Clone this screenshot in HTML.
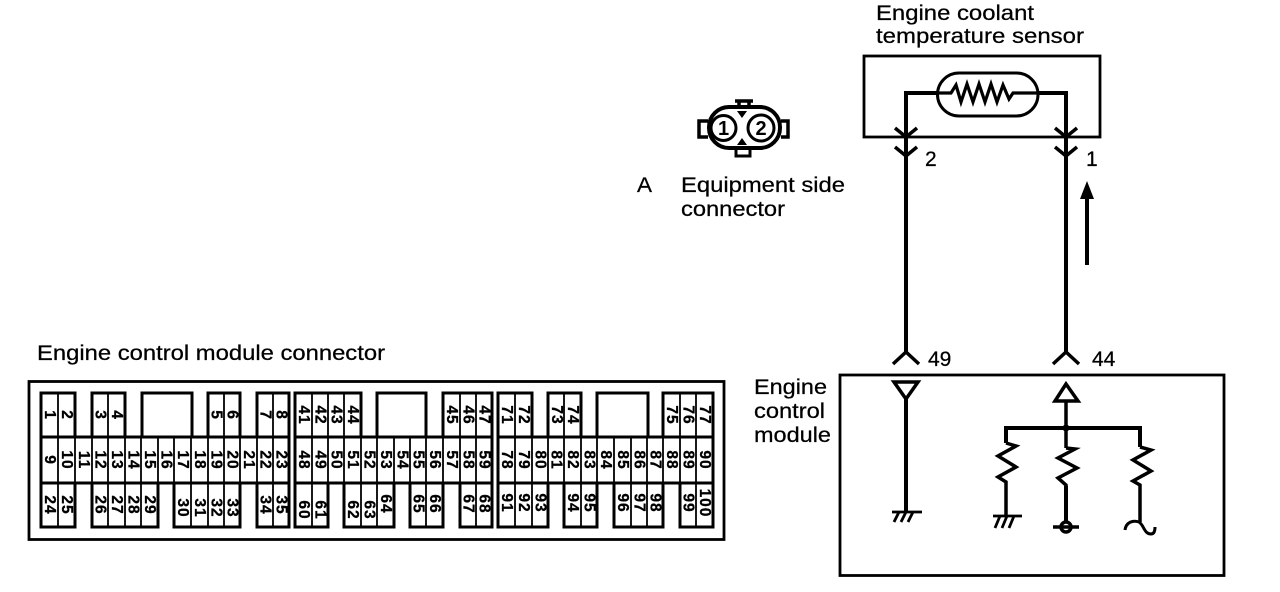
<!DOCTYPE html>
<html><head><meta charset="utf-8"><style>
html,body{margin:0;padding:0;background:#fff}
svg{display:block}
.l{font:21px "Liberation Sans",sans-serif;fill:#000;stroke:#000;stroke-width:.25px}
.n text{font:bold 15.5px "Liberation Sans",sans-serif;fill:#000;stroke:#000;stroke-width:.3px;text-anchor:middle;dominant-baseline:central;letter-spacing:1px}
</style></head><body>
<svg width="1280" height="592" viewBox="0 0 1280 592" xmlns="http://www.w3.org/2000/svg">
<rect width="1280" height="592" fill="#fff"/>
<g fill="none" stroke="#000" stroke-linejoin="miter">
<rect x="29" y="381.500" width="695" height="158" stroke-width="2.800"/>
<g stroke-width="3">
<path d="M41 437V393H75V437M92 437V393H125V437M142 437V393H192V437M208 437V393H240V437M257 437V393H289V437M295 437V393H361V437M377 437V393H426V437M443 437V393H492V437M498 437V393H532V437M548 437V393H581V437M597 437V393H648V437M663 437V393H713V437"/>
<path d="M41 437H289M295 437H492M498 437H713M41 483H289M295 483H492M498 483H713M41 437V483M289 437V483M295 437V483M492 437V483M498 437V483M713 437V483"/>
<path d="M41 483V527H75V483M92 483V527H158V483M174 483V527H240V483M257 483V527H289V483M295 483V527H328V483M344 483V527H394V483M410 483V527H443V483M460 483V527H492V483M498 483V527H548V483M564 483V527H597V483M614 483V527H663V483M680 483V527H713V483"/>
</g>
<path stroke-width="1.800" d="M58 393V437M108 393V437M224 393V437M273 393V437M312 393V437M328 393V437M344 393V437M460 393V437M476 393V437M515 393V437M564 393V437M680 393V437M696 393V437
M58 437V483M75 437V483M92 437V483M108 437V483M125 437V483M141 437V483M158 437V483M174 437V483M191 437V483M208 437V483M224 437V483M240 437V483M257 437V483M273 437V483M312 437V483M328 437V483M344 437V483M361 437V483M377 437V483M394 437V483M410 437V483M426 437V483M443 437V483M460 437V483M476 437V483M515 437V483M532 437V483M548 437V483M564 437V483M581 437V483M597 437V483M614 437V483M631 437V483M647 437V483M663 437V483M680 437V483M696 437V483
M58 483V527M108 483V527M125 483V527M141 483V527M191 483V527M208 483V527M224 483V527M273 483V527M312 483V527M361 483V527M377 483V527M426 483V527M476 483V527M515 483V527M532 483V527M581 483V527M631 483V527M647 483V527M696 483V527"/>
</g>
<g class="n">
<text transform="translate(49.500,415) rotate(90)">1</text>
<text transform="translate(66.500,415) rotate(90)">2</text>
<text transform="translate(100,415) rotate(90)">3</text>
<text transform="translate(116.500,415) rotate(90)">4</text>
<text transform="translate(216,415) rotate(90)">5</text>
<text transform="translate(232,415) rotate(90)">6</text>
<text transform="translate(265,415) rotate(90)">7</text>
<text transform="translate(281,415) rotate(90)">8</text>
<text transform="translate(303.500,415) rotate(90)">41</text>
<text transform="translate(320,415) rotate(90)">42</text>
<text transform="translate(336,415) rotate(90)">43</text>
<text transform="translate(352.500,415) rotate(90)">44</text>
<text transform="translate(451.500,415) rotate(90)">45</text>
<text transform="translate(468,415) rotate(90)">46</text>
<text transform="translate(484,415) rotate(90)">47</text>
<text transform="translate(506.500,415) rotate(90)">71</text>
<text transform="translate(523.500,415) rotate(90)">72</text>
<text transform="translate(556.500,415) rotate(90)">73</text>
<text transform="translate(572.500,415) rotate(90)">74</text>
<text transform="translate(671.500,415) rotate(90)">75</text>
<text transform="translate(688,415) rotate(90)">76</text>
<text transform="translate(704.500,415) rotate(90)">77</text>
<text transform="translate(49.500,460) rotate(90)">9</text>
<text transform="translate(66.500,460) rotate(90)">10</text>
<text transform="translate(83.500,460) rotate(90)">11</text>
<text transform="translate(100,460) rotate(90)">12</text>
<text transform="translate(116.500,460) rotate(90)">13</text>
<text transform="translate(133,460) rotate(90)">14</text>
<text transform="translate(149.500,460) rotate(90)">15</text>
<text transform="translate(166,460) rotate(90)">16</text>
<text transform="translate(182.500,460) rotate(90)">17</text>
<text transform="translate(199.500,460) rotate(90)">18</text>
<text transform="translate(216,460) rotate(90)">19</text>
<text transform="translate(232,460) rotate(90)">20</text>
<text transform="translate(248.500,460) rotate(90)">21</text>
<text transform="translate(265,460) rotate(90)">22</text>
<text transform="translate(281,460) rotate(90)">23</text>
<text transform="translate(303.500,460) rotate(90)">48</text>
<text transform="translate(320,460) rotate(90)">49</text>
<text transform="translate(336,460) rotate(90)">50</text>
<text transform="translate(352.500,460) rotate(90)">51</text>
<text transform="translate(369,460) rotate(90)">52</text>
<text transform="translate(385.500,460) rotate(90)">53</text>
<text transform="translate(402,460) rotate(90)">54</text>
<text transform="translate(418,460) rotate(90)">55</text>
<text transform="translate(434.500,460) rotate(90)">56</text>
<text transform="translate(451.500,460) rotate(90)">57</text>
<text transform="translate(468,460) rotate(90)">58</text>
<text transform="translate(484,460) rotate(90)">59</text>
<text transform="translate(506.500,460) rotate(90)">78</text>
<text transform="translate(523.500,460) rotate(90)">79</text>
<text transform="translate(540,460) rotate(90)">80</text>
<text transform="translate(556,460) rotate(90)">81</text>
<text transform="translate(572.500,460) rotate(90)">82</text>
<text transform="translate(589,460) rotate(90)">83</text>
<text transform="translate(605.500,460) rotate(90)">84</text>
<text transform="translate(622.500,460) rotate(90)">85</text>
<text transform="translate(639,460) rotate(90)">86</text>
<text transform="translate(655,460) rotate(90)">87</text>
<text transform="translate(671.500,460) rotate(90)">88</text>
<text transform="translate(688,460) rotate(90)">89</text>
<text transform="translate(704.500,460) rotate(90)">90</text>
<text transform="translate(49.500,505) rotate(90)">24</text>
<text transform="translate(66.500,505) rotate(90)">25</text>
<text transform="translate(100,505) rotate(90)">26</text>
<text transform="translate(116.500,505) rotate(90)">27</text>
<text transform="translate(133,505) rotate(90)">28</text>
<text transform="translate(149.500,505) rotate(90)">29</text>
<text transform="translate(182.500,508) rotate(90)">30</text>
<text transform="translate(199.500,508) rotate(90)">31</text>
<text transform="translate(216,508) rotate(90)">32</text>
<text transform="translate(232,508) rotate(90)">33</text>
<text transform="translate(265,505) rotate(90)">34</text>
<text transform="translate(281,505) rotate(90)">35</text>
<text transform="translate(303.500,510) rotate(90)">60</text>
<text transform="translate(320,510) rotate(90)">61</text>
<text transform="translate(352.500,510) rotate(90)">62</text>
<text transform="translate(369,510) rotate(90)">63</text>
<text transform="translate(385.500,504) rotate(90)">64</text>
<text transform="translate(418,504) rotate(90)">65</text>
<text transform="translate(434.500,504) rotate(90)">66</text>
<text transform="translate(468,504) rotate(90)">67</text>
<text transform="translate(484,504) rotate(90)">68</text>
<text transform="translate(506.500,503) rotate(90)">91</text>
<text transform="translate(523.500,503) rotate(90)">92</text>
<text transform="translate(540,503) rotate(90)">93</text>
<text transform="translate(572.500,503) rotate(90)">94</text>
<text transform="translate(589,503) rotate(90)">95</text>
<text transform="translate(622.500,503) rotate(90)">96</text>
<text transform="translate(639,503) rotate(90)">97</text>
<text transform="translate(655,503) rotate(90)">98</text>
<text transform="translate(688,503) rotate(90)">99</text>
<text transform="translate(704.500,503) rotate(90)">100</text>
</g>
<text class="l" x="37" y="360" textLength="348" lengthAdjust="spacingAndGlyphs">Engine control module connector</text>
<text class="l" x="876" y="20" textLength="158" lengthAdjust="spacingAndGlyphs">Engine coolant</text>
<text class="l" x="876" y="43" textLength="208" lengthAdjust="spacingAndGlyphs">temperature sensor</text>
<text class="l" x="637" y="192" textLength="15" lengthAdjust="spacingAndGlyphs">A</text>
<text class="l" x="681" y="192" textLength="164" lengthAdjust="spacingAndGlyphs">Equipment side</text>
<text class="l" x="681" y="216" textLength="104" lengthAdjust="spacingAndGlyphs">connector</text>
<text class="l" x="754" y="394" textLength="73" lengthAdjust="spacingAndGlyphs">Engine</text>
<text class="l" x="754" y="418" textLength="71" lengthAdjust="spacingAndGlyphs">control</text>
<text class="l" x="754" y="442" textLength="77" lengthAdjust="spacingAndGlyphs">module</text>
<text class="l" x="925" y="166">2</text>
<text class="l" x="1086" y="166">1</text>
<text class="l" x="928" y="366">49</text>
<text class="l" x="1092" y="366">44</text>
<g fill="none" stroke="#000" stroke-width="3.500">
<rect x="864" y="56" width="236" height="81" stroke-width="2.800"/>
<path d="M906 352V93H937M1038 93H1066V352" stroke-width="4"/>
<rect x="937.500" y="73" width="100.500" height="43" rx="21.500" stroke-width="3"/>
<path d="M937 93H951L956 85L961 102L967 84L973 102L979 84L985 102L991 84L997 102L1003 85L1009 99L1013 93H1038" stroke-width="3.200"/>
<path d="M895 128L906 137L917 128M1055 128L1066 137L1077 128M895 147L906 156L917 147M1055 147L1066 156L1077 147"/>
<path d="M893 364L906 352L919 364M1053 364L1066 352L1079 364"/>
<rect x="840" y="375" width="384" height="200.500" stroke-width="2.800"/>
<path d="M894 382H918L906 399Z" stroke-width="3.500"/>
<path d="M906 399V512" stroke-width="4"/>
<path d="M892 512H922M899 512L894 522M906 512L901 522M913 512L908 522" stroke-width="2.800"/>
<path d="M1066 384L1055 401H1078Z" stroke-width="3.500"/>
<path d="M1066 401V448" stroke-width="3.500"/>
<path d="M1006 443V428H1140V447" stroke-width="4"/>
<path d="M1006 443L1016 446L998 456L1016 467L998 477L1006 482V515"/>
<path d="M1066 448L1075 449L1058 458L1077 468L1058 478L1066 485V520"/>
<path d="M1140 447L1151 450L1133 460L1151 471L1133 481L1140 485V522"/>
<path d="M1066 486V522" stroke-width="4"/>
<path d="M993 516H1022M1000 516L995 528M1007 516L1002 528M1014 516L1009 528" stroke-width="2.800"/>
<circle cx="1066" cy="527" r="5"/>
<path d="M1053 527H1079"/>
<circle cx="1066" cy="428" r="3.500" fill="#000" stroke="none"/>
<path d="M1125 530C1126 522 1133 520 1139 522C1144 525 1144 534 1151 534C1154 534 1155 531 1155 527" stroke-width="3"/>
<path d="M1087 265V195" stroke-width="4"/>
</g>
<path d="M1087 181L1094 199H1080Z" fill="#000"/>
<g fill="none" stroke="#000">
<rect x="709" y="107" width="71" height="41" rx="20" stroke-width="4"/>
<path d="M708 121H699V137H708M781 121H788V137H781" stroke-width="3.500"/>
<path d="M735 101H753M739 101V106M749 101V106" stroke-width="3.500"/>
<path d="M736 150V156H750V150" stroke-width="3"/>
<path d="M737 111L742 118L747 111ZM737 145L742 138L747 145Z" fill="#000" stroke="none"/>
<circle cx="723.500" cy="128" r="12.500" fill="#fff" stroke-width="3"/>
<circle cx="761" cy="128" r="13" fill="#fff" stroke-width="3"/>
</g>
<text x="723.500" y="135" text-anchor="middle" font-family="Liberation Sans,sans-serif" font-size="20" font-weight="bold">1</text>
<text x="761" y="135" text-anchor="middle" font-family="Liberation Sans,sans-serif" font-size="20" font-weight="bold">2</text>
</svg>
</body></html>
